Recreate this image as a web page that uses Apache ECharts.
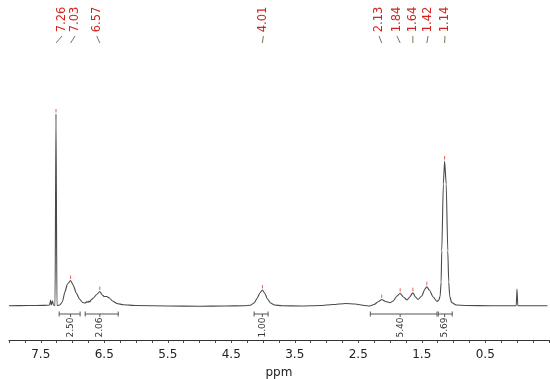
<!DOCTYPE html>
<html>
<head>
<meta charset="utf-8">
<script src="https://cdn.jsdelivr.net/npm/echarts@6/dist/echarts.min.js"></script>
<style>html,body{margin:0;padding:0;background:#fff;}#c{width:550px;height:379px;}</style>
</head>
<body>
<div id="c"></div>
<script>
// ---- data ----
// spectrum: chemical shift (ppm) and intensity (arbitrary units, baseline = 0)
const specPpm = [8.00,7.70,7.45,7.36,7.345,7.335,7.315,7.30,7.275,7.26,7.245,7.20,7.16,7.12,7.08,7.03,6.99,6.94,6.89,6.84,6.80,6.77,6.755,6.74,6.725,6.71,6.67,6.62,6.57,6.53,6.50,6.46,6.42,6.37,6.30,6.20,6.00,5.50,5.00,4.60,4.30,4.20,4.14,4.09,4.05,4.01,3.97,3.93,3.88,3.82,3.70,3.40,3.10,2.90,2.70,2.55,2.40,2.32,2.25,2.18,2.13,2.07,2.00,1.95,1.89,1.84,1.79,1.73,1.69,1.64,1.60,1.56,1.50,1.45,1.42,1.38,1.32,1.26,1.23,1.21,1.195,1.185,1.16,1.14,1.115,1.09,1.075,1.06,1.03,0.96,0.80,0.40,0.012,0.0,-0.012,-0.20,-0.48];
const specInt = [0.3,0.5,0.6,1,6,1,5,1,0.5,192,0.5,1,4,14,22,25.5,21,13,7,3.5,3,4.5,3.5,5,4,6,8,11.5,14.5,11,9.5,9.5,8,5,2.5,1.2,0.5,0,-0.3,0,0.3,0.8,3,8,13,16,12.5,7,3,1,0.3,0,0.5,1.5,2.5,2,0.5,0,1.5,4.5,6.5,4.5,3.3,5,10,12.7,9,6,9,13.3,9,6.5,10,17,19.3,16,9,4.5,6,10,24,55,122,145,122,55,24,10,3.5,1,0.5,0.3,0.3,17,0.3,0.3,0.3];

// peak picking
const peakShifts = [7.26,7.03,6.57,4.01,2.13,1.84,1.64,1.42,1.14];
const peakLabels = ['7.26','7.03','6.57','4.01','2.13','1.84','1.64','1.42','1.14'];
const peakHeights = [192,25.5,14.5,16,6.5,12.7,13.3,19.3,145];

// integrals
const intStart = [7.21,6.80,4.14,2.31,1.24];
const intEnd = [6.88,6.28,3.92,1.26,1.02];
const intAt = [7.03,6.57,4.01,1.84,1.14];
const intValues = ['2.50','2.06','1.00','5.40','5.69'];

// axis
const axisMin = -0.5, axisMax = 8.0, tickStep = 0.25;
const axisName = 'ppm';

// ---- layout (pixels) ----
const labelOffsetPx = [6,4.5,-3,1,-2.7,-3.2,0,1.2,0.4];
const FONT = '"DejaVu Sans", Verdana, sans-serif';

const chart = echarts.init(document.getElementById('c'), null, {renderer:'canvas'});

const specData = specPpm.map((p,i)=>[p, specInt[i]]);
const intData = intStart.map((s,i)=>[s, intEnd[i], intAt[i]]);
const peakData = peakShifts.map((p,i)=>[p, peakHeights[i]]);

chart.setOption({
  animation:false,
  backgroundColor:'#fff',
  grid:{left:9, right:1.25, top:100, bottom:39, containLabel:false, outerBoundsMode:'none'},
  xAxis:{
    type:'value', inverse:true, min:axisMin, max:axisMax, interval:tickStep,
    name:axisName, nameLocation:'middle', nameGap:27,
    nameTextStyle:{color:'#222', fontSize:12, fontFamily:FONT},
    axisLine:{onZero:false, lineStyle:{color:'#333', width:1}},
    axisTick:{show:true, length:3, lineStyle:{color:'#444'}},
    splitLine:{show:false},
    axisLabel:{
      color:'#222', fontSize:12, fontFamily:FONT, margin:9,
      showMinLabel:true, showMaxLabel:true, hideOverlap:false,
      formatter:function(v){ return (Math.round(v*4)%4===2 && v>0) ? v.toFixed(1) : ''; }
    }
  },
  yAxis:{type:'value', min:-34, max:206, show:false},
  series:[
    {
      type:'line', data:specData, showSymbol:false, smooth:0.2, smoothMonotone:'x',
      lineStyle:{color:'#4a4a4a', width:1.1}, silent:true, z:2
    },
    {
      type:'custom', data:intData, clip:false, silent:true, z:3,
      renderItem:function(params, api){
        const y0 = -8;
        const s = api.coord([api.value(0), y0]);
        const e = api.coord([api.value(1), y0]);
        const m = api.coord([api.value(2), y0]);
        const st = {stroke:'#555', lineWidth:1};
        return {type:'group', children:[
          {type:'line', shape:{x1:s[0], y1:s[1], x2:e[0], y2:e[1]}, style:st},
          {type:'line', shape:{x1:s[0], y1:s[1]-2.5, x2:s[0], y2:s[1]+2.5}, style:st},
          {type:'line', shape:{x1:e[0], y1:e[1]-2.5, x2:e[0], y2:e[1]+2.5}, style:st},
          {type:'line', shape:{x1:m[0], y1:m[1], x2:m[0], y2:m[1]+3}, style:st},
          {type:'text', x:m[0], y:m[1]+13.5, rotation:Math.PI/2,
           style:{text:intValues[params.dataIndex], x:0, y:0, align:'center', verticalAlign:'middle',
                  fill:'#333', font:'9px '+FONT}}
        ]};
      }
    },
    {
      type:'custom', data:peakData, clip:false, silent:true, z:4,
      renderItem:function(params, api){
        const i = params.dataIndex;
        const top = api.coord([api.value(0), api.value(1)]);
        const base = api.coord([api.value(0), 0]);
        const lx = base[0] + labelOffsetPx[i];
        return {type:'group', children:[
          {type:'text', x:lx, y:19.5, rotation:Math.PI/2,
           style:{text:peakLabels[i], x:0, y:0, align:'center', verticalAlign:'middle',
                  fill:'#d2231f', font:'11.5px '+FONT}},
          {type:'line', shape:{x1:lx, y1:36, x2:base[0], y2:43}, style:{stroke:'#6f7d58', lineWidth:1}},
          {type:'line', shape:{x1:top[0], y1:top[1]-5, x2:top[0], y2:top[1]-1.5}, style:{stroke:'#e2625c', lineWidth:1}}
        ]};
      }
    }
  ]
});
</script>
</body>
</html>
